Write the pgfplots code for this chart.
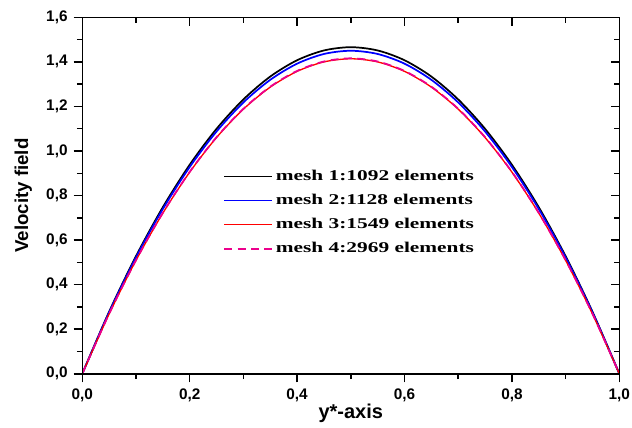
\documentclass[border=0pt]{standalone}
\usepackage{fontspec}
\setmainfont{Liberation Sans}
\newfontfamily\timesf[FakeStretch=1.43]{Liberation Serif}
\usepackage{pgfplots}
\pgfplotsset{compat=1.18}
\pgfplotsset{
  legend image code/.code={\draw[#1] (0pt,0pt) -- (36pt,0pt);},
  common/.style={
    scale only axis,
    width=402.75pt, height=267.3pt,
    xmin=0, xmax=1, ymin=0, ymax=1.6,
    xtick={0,0.2,...,1.0}, ytick={0,0.2,...,1.6},
    minor x tick num=1, minor y tick num=1,
    major tick length=6.5pt, minor tick length=4pt,
    axis line style={line width=1.1pt},
    every tick/.style={line width=1.1pt, black},
  }
}
\begin{document}
\begin{tikzpicture}
\begin{axis}[common, name=ax,
  xtick pos=left, ytick pos=left, tick align=outside,
  /pgf/number format/.cd, use comma, fixed, fixed zerofill, precision=1, assume math mode=true,
  /pgfplots/.cd,
  ticklabel style={font=\fontsize{11.5}{13}\selectfont\bfseries},
  yticklabel style={xshift=-1pt},
  xticklabel style={yshift=-1pt},
  xlabel={y*-axis}, ylabel={Velocity field},
  xlabel style={font=\fontsize{15}{17}\selectfont\bfseries, at={(axis description cs:0.5,0)}, anchor=center, yshift=-29.5pt},
  ylabel style={font=\fontsize{14}{16}\selectfont\bfseries, at={(axis description cs:0,0.5)}, anchor=center, yshift=44.3pt},
  legend style={at={(rel axis cs:0.26,0.583)}, anchor=north west, draw=none, fill=none,
    font=\timesf\bfseries\fontsize{11.2}{13}\selectfont, row sep=4.8pt, inner sep=1pt},
  legend cell align=left,
]
\addplot[black, line width=1.3pt, smooth] coordinates {
(0,0) (0.05,0.2785) (0.1,0.5278) (0.15,0.7477) (0.2,0.9382) (0.25,1.0995) (0.3,1.2314) (0.35,1.3341) (0.4,1.4074) (0.45,1.4513) (0.5,1.466)
(0.55,1.4513) (0.6,1.4074) (0.65,1.3341) (0.7,1.2314) (0.75,1.0995) (0.8,0.9382) (0.85,0.7477) (0.9,0.5278) (0.95,0.2785) (1,0)};
\addlegendentry{mesh 1:1092 elements}
\addplot[blue, line width=1.3pt, smooth] coordinates {
(0,0) (0.05,0.2755) (0.1,0.522) (0.15,0.7395) (0.2,0.928) (0.25,1.0875) (0.3,1.218) (0.35,1.3195) (0.4,1.392) (0.45,1.4355) (0.5,1.45)
(0.55,1.4355) (0.6,1.392) (0.65,1.3195) (0.7,1.218) (0.75,1.0875) (0.8,0.928) (0.85,0.7395) (0.9,0.522) (0.95,0.2755) (1,0)};
\addlegendentry{mesh 2:1128 elements}
\addplot[red, line width=1.0pt, smooth] coordinates {
(0,0) (0.05,0.2687) (0.1,0.509) (0.15,0.7211) (0.2,0.905) (0.25,1.0605) (0.3,1.1878) (0.35,1.2867) (0.4,1.3574) (0.45,1.3999) (0.5,1.414)
(0.55,1.3999) (0.6,1.3574) (0.65,1.2867) (0.7,1.1878) (0.75,1.0605) (0.8,0.905) (0.85,0.7211) (0.9,0.509) (0.95,0.2687) (1,0)};
\addlegendentry{mesh 3:1549 elements}
\addplot[magenta, line width=1.3pt, smooth, dash pattern=on 6pt off 4pt] coordinates {
(0,0) (0.05,0.269) (0.1,0.5098) (0.15,0.7222) (0.2,0.9062) (0.25,1.062) (0.3,1.1894) (0.35,1.2886) (0.4,1.3594) (0.45,1.4018) (0.5,1.416)
(0.55,1.4018) (0.6,1.3594) (0.65,1.2886) (0.7,1.1894) (0.75,1.062) (0.8,0.9062) (0.85,0.7222) (0.9,0.5098) (0.95,0.269) (1,0)};
\addlegendentry{mesh 4:2969 elements}
\end{axis}
\begin{axis}[common,
  xtick pos=right, ytick pos=right, tick align=inside,
  xticklabels={}, yticklabels={},
]
\end{axis}
\pgfresetboundingbox
\path ([xshift=-61.7pt,yshift=-40pt]ax.south west) rectangle ([xshift=9.5pt,yshift=13pt]ax.north east);
\end{tikzpicture}
\end{document}
